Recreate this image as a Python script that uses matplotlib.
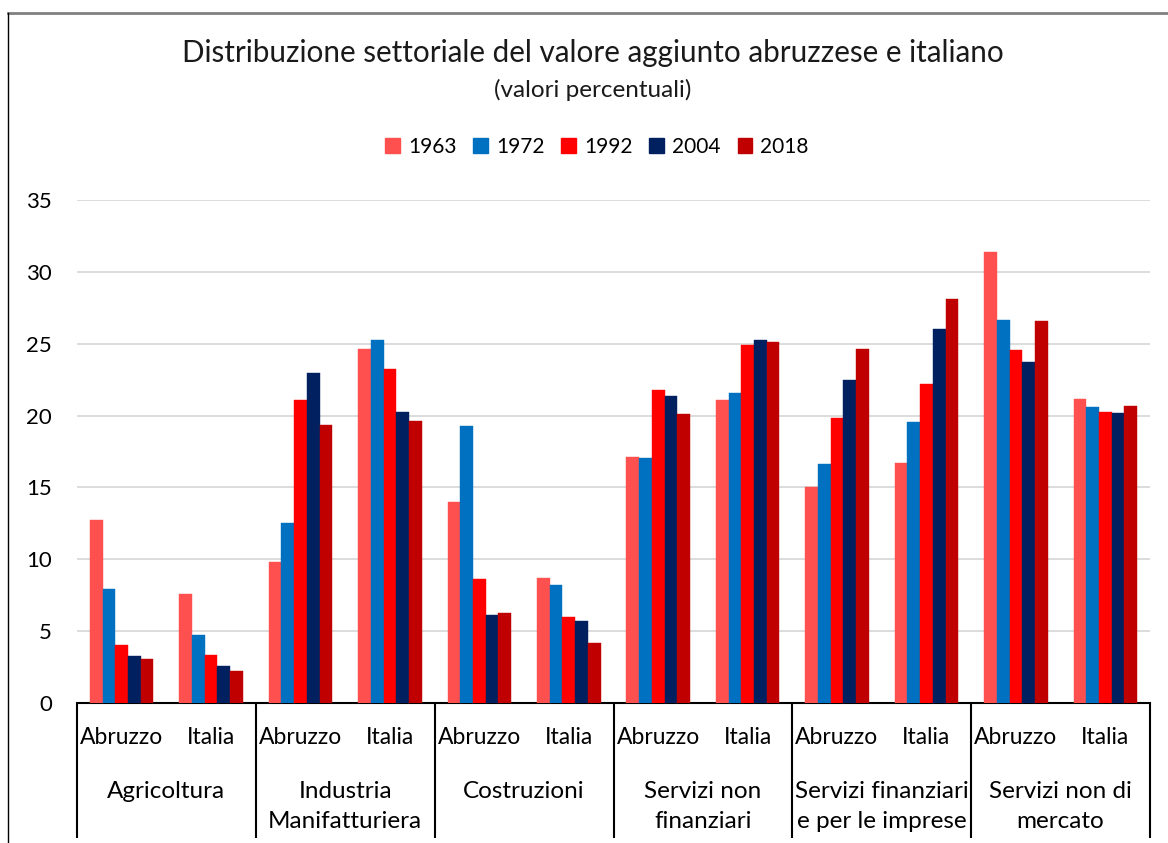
import matplotlib
matplotlib.use("Agg")
import matplotlib.pyplot as plt
import matplotlib.transforms as mtransforms
from matplotlib.patches import Patch
from matplotlib.lines import Line2D
import numpy as np

plt.rcParams['font.family'] = ['Lato', 'DejaVu Sans']

sectors = ["Agricoltura", "Industria\nManifatturiera", "Costruzioni",
           "Servizi non\nfinanziari", "Servizi finanziari\ne per le imprese",
           "Servizi non di\nmercato"]
areas = ["Abruzzo", "Italia"]
years = ["1963", "1972", "1992", "2004", "2018"]

# values per year, ordered: sector x (Abruzzo, Italia)
v1963 = [12.7, 7.6, 9.8, 24.65, 14.0, 8.7, 17.1, 21.1, 15.0, 16.7, 31.4, 21.15]
v1972 = [7.9, 4.75, 12.5, 25.25, 19.3, 8.2, 17.05, 21.6, 16.6, 19.55, 26.65, 20.6]
v1992 = [4.05, 3.35, 21.05, 23.25, 8.6, 5.95, 21.75, 24.9, 19.85, 22.2, 24.55, 20.25]
v2004 = [3.3, 2.6, 22.95, 20.25, 6.15, 5.7, 21.35, 25.25, 22.45, 26.0, 23.75, 20.15]
v2018 = [3.05, 2.2, 19.35, 19.6, 6.25, 4.2, 20.1, 25.15, 24.65, 28.1, 26.6, 20.7]
series = [v1963, v1972, v1992, v2004, v2018]
colors = ["#FF5050", "#0070C0", "#FF0000", "#002060", "#C00000"]

W, H = 1168, 843
fig = plt.figure(figsize=(W / 100, H / 100), dpi=100)
ax_left, ax_right, ax_top, ax_bot = 77, 1150, 200, 703
ax = fig.add_axes([ax_left / W, 1 - ax_bot / H, (ax_right - ax_left) / W, (ax_bot - ax_top) / H])

n = len(v1963)
x = np.arange(n) + 0.5
bw = 0.142
for i, (vals, c) in enumerate(zip(series, colors)):
    ax.bar(x + (i - 2) * bw, vals, width=bw, color=c, edgecolor=c, linewidth=0.3, zorder=3)

ax.set_xlim(0, n)
ax.set_ylim(0, 35)
ax.set_yticks(np.arange(0, 36, 5))
ax.yaxis.grid(True, color="#d9d9d9", linewidth=1.3, zorder=0)
ax.set_axisbelow(True)
for s in ["left", "right", "top"]:
    ax.spines[s].set_visible(False)
ax.spines["bottom"].set_color("black")
ax.spines["bottom"].set_linewidth(1.5)
ax.tick_params(axis="y", length=0, labelsize=16, pad=18, labelcolor="black")
ax.tick_params(axis="x", length=0, labelbottom=False)

trans = mtransforms.blended_transform_factory(ax.transData, ax.transAxes)
hpx = ax_bot - ax_top
def yax(py):
    return (ax_bot - py) / hpx

for k in range(n):
    ax.text(x[k], yax(738), areas[k % 2], transform=trans, ha="center", va="center",
            fontsize=16.5, clip_on=False)
for g, name in enumerate(sectors):
    ax.text(2 * g + 1, yax(781), name, transform=trans, ha="center", va="top",
            fontsize=17.5, linespacing=1.5, clip_on=False)
for b in range(0, n + 1, 2):
    ax.plot([b, b], [0, yax(838)], transform=trans, color="black", linewidth=1.5,
            clip_on=False, solid_capstyle="butt")

# outer frame (partially visible)
fig.add_artist(Line2D([8 / W, 1], [1 - 12.5 / H, 1 - 12.5 / H], color="#808080", linewidth=2))
fig.add_artist(Line2D([8 / W, 8 / W], [0, 1 - 12.5 / H], color="black", linewidth=1))

fig.text(593 / W, 1 - 53 / H, "Distribuzione settoriale del valore aggiunto abruzzese e italiano",
         ha="center", va="center", fontsize=21.3, color="#1a1a1a")
fig.text(593 / W, 1 - 90 / H, "(valori percentuali)", ha="center", va="center", fontsize=17.5,
         color="#1a1a1a")

handles = [Patch(facecolor=c, edgecolor=c) for c in colors]
fig.legend(handles, years, loc="center", bbox_to_anchor=(597 / W, 1 - 147 / H), ncol=5,
           frameon=False, fontsize=15, handlelength=0.7, handleheight=0.7,
           handletextpad=0.4, columnspacing=0.8)

fig.savefig("out.png", dpi=100)
